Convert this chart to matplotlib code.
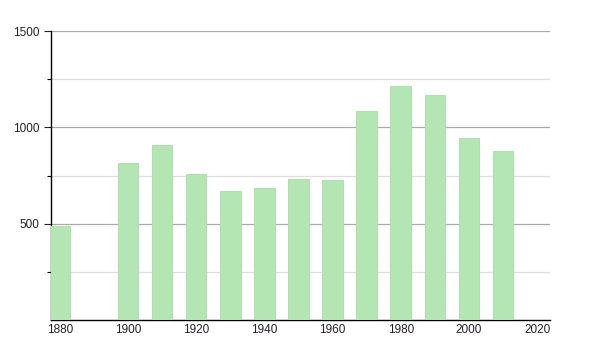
import matplotlib
matplotlib.use("Agg")
import matplotlib.pyplot as plt
from matplotlib.ticker import MultipleLocator, FixedLocator

years = [1880, 1900, 1910, 1920, 1930, 1940, 1950, 1960, 1970, 1980, 1990, 2000, 2010]
population = [488, 817, 908, 758, 669, 685, 732, 727, 1085, 1214, 1168, 944, 877]
x_ticks = [1880, 1900, 1920, 1940, 1960, 1980, 2000, 2020]
y_ticks = [500, 1000, 1500]

plt.rcParams['font.family'] = ['Liberation Sans', 'DejaVu Sans']
fig = plt.figure(figsize=(6, 3.5), dpi=100)
ax = fig.add_axes([0.085, 0.0857, 0.8317, 0.8253])

ax.bar(years, population, width=6, color='#b3e6b3', edgecolor='#a8dca8', linewidth=0.6, zorder=3)

ax.set_xlim(1877.4, 2023.8)
ax.set_ylim(0, 1500)
ax.xaxis.set_major_locator(FixedLocator(x_ticks))
ax.yaxis.set_major_locator(FixedLocator(y_ticks))
ax.yaxis.set_minor_locator(FixedLocator([250, 750, 1250]))
ax.grid(axis='y', which='major', color='#aaaaaa', linewidth=0.9, zorder=0)
ax.grid(axis='y', which='minor', color='#dddddd', linewidth=0.9, zorder=0)
ax.tick_params(axis='x', length=0, labelsize=8.5, pad=3, colors='#222222')
ax.tick_params(axis='y', which='major', length=5, width=0.8, labelsize=8.5, colors='#222222')
ax.tick_params(axis='y', which='minor', length=3, width=0.8)
for s in ['top', 'right']:
    ax.spines[s].set_visible(False)
for s in ['left', 'bottom']:
    ax.spines[s].set_color('black')
    ax.spines[s].set_linewidth(1.0)

fig.savefig('out.png', dpi=100)
